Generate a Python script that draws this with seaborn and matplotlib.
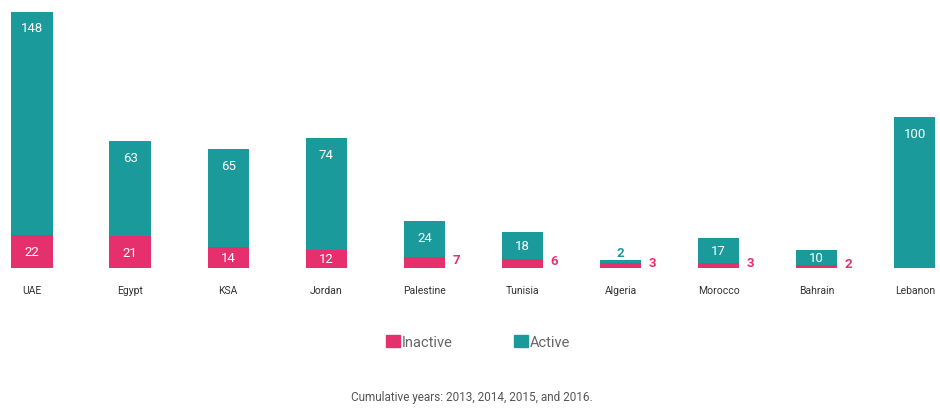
import matplotlib
matplotlib.use("Agg")
import matplotlib.pyplot as plt
import seaborn as sns
import pandas as pd
from matplotlib.patches import Patch

countries = ["UAE", "Egypt", "KSA", "Jordan", "Palestine", "Tunisia",
             "Algeria", "Morocco", "Bahrain", "Lebanon"]
inactive = [22, 21, 14, 12, 7, 6, 3, 3, 2, 0]
active = [148, 63, 65, 74, 24, 18, 2, 17, 10, 100]

TEAL = "#1a9a9b"
PINK = "#e6306d"

df = pd.DataFrame({"country": countries, "inactive": inactive, "active": active})
df["total"] = df["inactive"] + df["active"]

sns.set_theme(style="white")
plt.rcParams["font.family"] = ["Roboto", "DejaVu Sans"]

fig = plt.figure(figsize=(9.4, 4.1), dpi=100)
ax = fig.add_axes([0, 1 - 269 / 410, 1, 269 / 410])

W = 0.42
sns.barplot(data=df, x="country", y="total", color=TEAL, width=W,
            saturation=1, ax=ax, order=countries, linewidth=0)
sns.barplot(data=df, x="country", y="inactive", color=PINK, width=W,
            saturation=1, ax=ax, order=countries, linewidth=0)

ax.set_xlim(-0.326, 9.256)
ax.set_ylim(0, 178.6)
ax.set_xlabel("")
ax.set_ylabel("")
ax.set_yticks([])
for s in ax.spines.values():
    s.set_visible(False)
ax.tick_params(axis="x", length=0, pad=12, labelsize=7.5, labelcolor="#333333")

PX = 178.6 / 269  # data units per pixel

for i, (ina, act) in enumerate(zip(inactive, active)):
    tot = ina + act
    # active label
    if act >= 5:
        y = max(tot - 16 * PX, ina + act / 2)
        ax.text(i, y, str(act), ha="center", va="center", color="white", fontsize=9.5)
    elif act > 0:
        ax.annotate(str(act), (i, tot), xytext=(0, 6), textcoords="offset points",
                    ha="center", va="center", color=TEAL, fontsize=9.5,
                    fontweight="bold")
    # inactive label
    if ina >= 10:
        ax.text(i, ina / 2, str(ina), ha="center", va="center", color="white", fontsize=9.5)
    elif ina > 0:
        ax.annotate(str(ina), (i + W / 2, ina / 2), xytext=(8, 2),
                    textcoords="offset points", ha="center", va="center",
                    color=PINK, fontsize=9.5, fontweight="bold")

handles = [Patch(facecolor=PINK, edgecolor=PINK), Patch(facecolor=TEAL, edgecolor=TEAL)]
leg = fig.legend(handles, ["Inactive", "Active"], loc="center",
                 bbox_to_anchor=(478 / 940, 1 - 343 / 410), ncol=2, frameon=False,
                 handlelength=0.95, handleheight=0.95, handletextpad=0.15,
                 columnspacing=4.2, fontsize=10.5)
for t in leg.get_texts():
    t.set_color("#666666")

fig.text(472 / 940, 1 - 398 / 410, "Cumulative years: 2013, 2014, 2015, and 2016.",
         ha="center", va="center", fontsize=8.5, color="#555555")

fig.savefig("out.png", dpi=100, facecolor="white")
